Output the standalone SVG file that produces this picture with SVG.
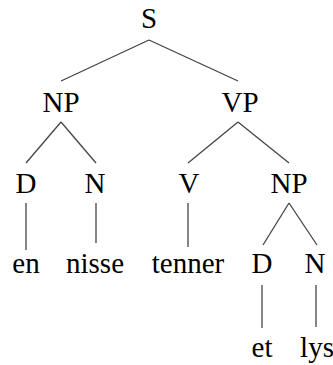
<svg xmlns="http://www.w3.org/2000/svg" width="333" height="365" viewBox="0 0 333 365">
<style>
text{font-family:"Liberation Serif","Times New Roman",serif;font-size:29px;fill:#000;text-anchor:middle}
line{stroke:#444;stroke-width:1.3}
</style>
<rect width="333" height="365" fill="#fff"/>
<g id="connectors">
<line x1="149" y1="40" x2="61" y2="81"/>
<line x1="149" y1="40" x2="238" y2="81"/>
<line x1="61" y1="122" x2="26" y2="163"/>
<line x1="61" y1="122" x2="96" y2="163"/>
<line x1="238" y1="122" x2="188" y2="163"/>
<line x1="238" y1="122" x2="289" y2="163"/>
<line x1="26" y1="203" x2="26" y2="250"/>
<line x1="96" y1="203" x2="96" y2="243"/>
<line x1="188" y1="203" x2="188" y2="247"/>
<line x1="289" y1="203" x2="263" y2="245"/>
<line x1="289" y1="203" x2="317" y2="245"/>
<line x1="262" y1="285" x2="262" y2="328"/>
<line x1="316" y1="285" x2="316" y2="327"/>
</g>
<g id="S"><text x="149" y="28">S</text></g>
<g id="NP1"><text x="61" y="112">NP</text></g>
<g id="VP"><text x="240" y="112">VP</text></g>
<g id="D1"><text x="26" y="193">D</text></g>
<g id="N1"><text x="95" y="193">N</text></g>
<g id="V"><text x="189" y="193">V</text></g>
<g id="NP2"><text x="289" y="193">NP</text></g>
<g id="en"><text x="26" y="273">en</text></g>
<g id="nisse"><text x="95" y="273">nisse</text></g>
<g id="tenner"><text x="188" y="273">tenner</text></g>
<g id="D2"><text x="262" y="273">D</text></g>
<g id="N2"><text x="315" y="273">N</text></g>
<g id="et"><text x="262" y="357">et</text></g>
<g id="lys"><text x="317" y="357">lys</text></g>
</svg>
